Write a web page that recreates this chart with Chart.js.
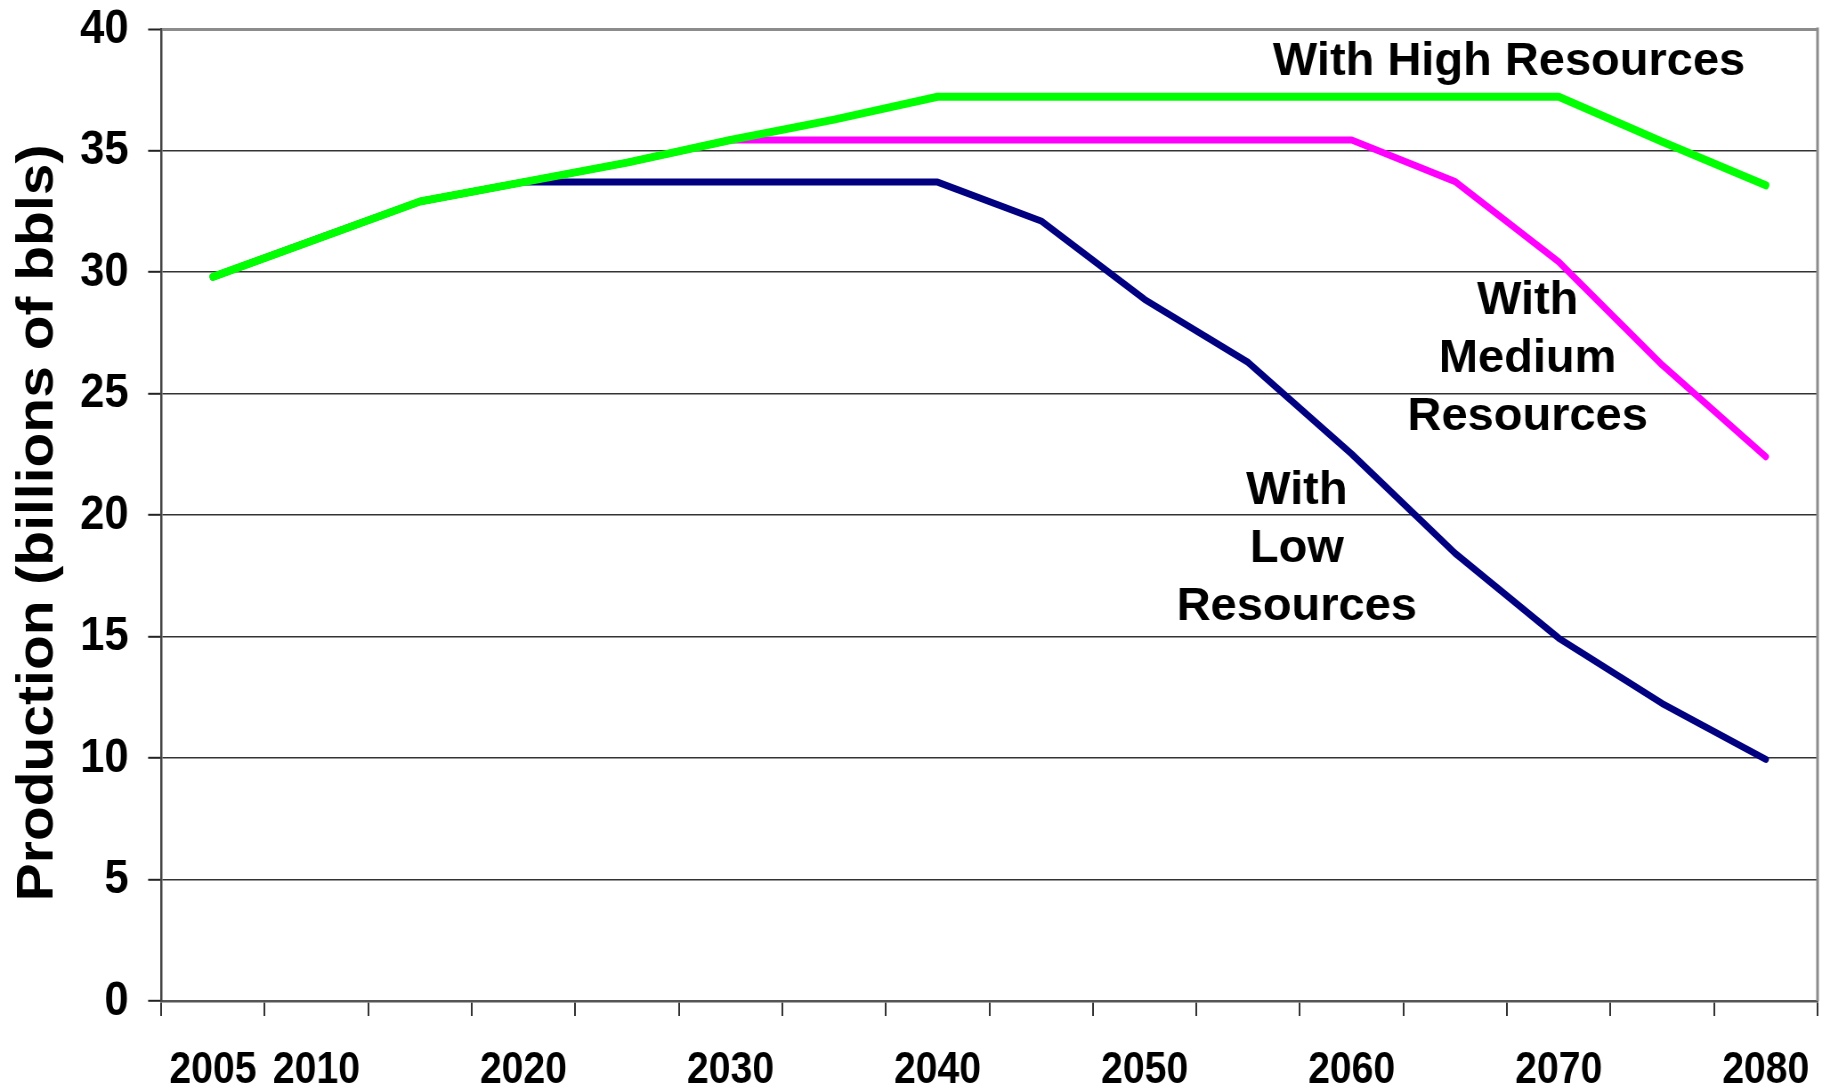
<!DOCTYPE html>
<html>
<head>
<meta charset="utf-8">
<script src="https://cdn.jsdelivr.net/npm/chart.js@4.4.1/dist/chart.umd.min.js"></script>
<style>
  html, body { margin: 0; padding: 0; background: #fff; }
  canvas { display: block; }
</style>
</head>
<body>
<canvas id="prodChart"></canvas>
<script>
// years on the category axis, and the labels actually printed under them
const years = [2005, 2010, 2015, 2020, 2025, 2030, 2035, 2040, 2045, 2050, 2055, 2060, 2065, 2070, 2075, 2080];
const yearLabels = ['2005', '2010', '', '2020', '', '2030', '', '2040', '', '2050', '', '2060', '', '2070', '', '2080'];
const yTicks = [0, 5, 10, 15, 20, 25, 30, 35, 40];

// production, billions of bbls
const highResources   = [29.8, 31.35, 32.9, 33.7, 34.5, 35.43, 36.27, 37.21, 37.21, 37.21, 37.21, 37.21, 37.21, 37.21, 35.36, 33.57];
const mediumResources = [29.8, 31.35, 32.9, 33.7, 34.5, 35.43, 35.43, 35.43, 35.43, 35.43, 35.43, 35.43, 33.72, 30.42, 26.17, 22.40];
const lowResources    = [29.8, 31.35, 32.9, 33.7, 33.7, 33.7, 33.7, 33.7, 32.1, 28.87, 26.28, 22.51, 18.42, 14.93, 12.24, 9.94];

// text notes next to the lines
const noteLines = [['With High Resources'], ['With', 'Medium', 'Resources'], ['With', 'Low', 'Resources']];
const noteAt = [[12.52, 38.62], [12.70, 26.42], [10.47, 18.60]]; // [category index, value] of the text centre

// the original picture is squeezed sideways a little, the ticks show it
const SQUISH = 0.89;
const OUT_W = 1830, OUT_H = 1091;
const canvas = document.getElementById('prodChart');
canvas.width = Math.round(OUT_W / SQUISH);
canvas.height = OUT_H;
canvas.style.width = OUT_W + 'px';
canvas.style.height = OUT_H + 'px';

Chart.defaults.font.family = '"Liberation Sans", Arial, sans-serif';
Chart.defaults.font.weight = 'bold';
Chart.defaults.color = '#000';

const frame = {
    id: 'frame',
    beforeDatasetsDraw(chart) {
        const { ctx, chartArea } = chart;
        ctx.save();
        ctx.strokeStyle = '#8c8c8c';
        ctx.lineWidth = 3;
        ctx.beginPath();
        ctx.moveTo(chartArea.right, chartArea.top - 1.5);
        ctx.lineTo(chartArea.right, chartArea.bottom);
        ctx.stroke();
        ctx.restore();
    }
};

const notes = {
    id: 'notes',
    afterDatasetsDraw(chart) {
        const { ctx, scales } = chart;
        const lineGap = 58;
        ctx.save();
        ctx.fillStyle = '#000';
        ctx.font = 'bold 47px "Liberation Sans", Arial, sans-serif';
        ctx.textAlign = 'center';
        ctx.textBaseline = 'middle';
        noteLines.forEach((lines, i) => {
            const cx = scales.x.getPixelForValue(noteAt[i][0]);
            const cy = scales.y.getPixelForValue(noteAt[i][1]);
            lines.forEach((txt, j) => {
                const y = cy + (j - (lines.length - 1) / 2) * lineGap;
                ctx.save();
                ctx.translate(cx, y);
                ctx.scale(1 / SQUISH, 1); // notes were not squeezed in the original
                ctx.fillText(txt, 0, 0);
                ctx.restore();
            });
        });
        ctx.restore();
    }
};

const lineStyle = {
    pointRadius: 0,
    pointHoverRadius: 0,
    tension: 0,
    fill: false,
    borderCapStyle: 'round',
    borderJoinStyle: 'round'
};

new Chart(canvas, {
    type: 'line',
    data: {
        labels: years,
        datasets: [
            // first dataset is painted last, so green sits on top
            { label: 'With High Resources', data: highResources, borderColor: '#00ff00', borderWidth: 8, ...lineStyle },
            { label: 'With Medium Resources', data: mediumResources, borderColor: '#ff00ff', borderWidth: 7, ...lineStyle },
            { label: 'With Low Resources', data: lowResources, borderColor: '#000080', borderWidth: 7, ...lineStyle },
        ],
    },
    options: {
        responsive: false,
        devicePixelRatio: 1,
        animation: false,
        layout: { padding: { left: 0, top: 29, right: 14, bottom: 0 } },
        scales: {
            x: {
                offset: true,
                grid: {
                    offset: true,
                    drawOnChartArea: false,
                    drawTicks: true,
                    tickLength: 15,
                    color: '#333',
                    lineWidth: 2,
                },
                border: { display: true, color: '#555', width: 2.5 },
                ticks: {
                    autoSkip: false,
                    maxRotation: 0,
                    padding: 28,
                    font: { size: 44, weight: 'bold' },
                    callback: (value, index) => yearLabels[index],
                },
                afterFit: (scale) => {
                    scale.height = 90;
                    scale.paddingLeft = 0;
                    scale.paddingRight = 0;
                },
            },
            y: {
                min: 0,
                max: 40,
                afterBuildTicks: (scale) => {
                    scale.ticks = yTicks.map(v => ({ value: v }));
                },
                grid: {
                    color: (ctx) => ctx.tick && ctx.tick.value === 40 ? '#8c8c8c' : '#333',
                    lineWidth: (ctx) => ctx.tick && ctx.tick.value === 40 ? 3 : 1.6,
                    tickColor: '#222',
                    tickWidth: 2,
                    tickLength: 14.6,
                },
                border: { display: true, color: '#444', width: 2.5 },
                ticks: {
                    padding: 22,
                    font: { size: 49, weight: 'bold', lineHeight: 1 },
                },
                title: {
                    display: true,
                    // trailing space nudges the centred title a few px down, as in the original
                    text: 'Production (billions of bbls) ',
                    font: { size: 57, weight: 'bold' },
                    padding: { top: 9, bottom: 0 },
                },
                afterFit: (scale) => {
                    scale.width = 181;
                    scale.paddingTop = 0;
                    scale.paddingBottom = 0;
                },
            },
        },
        plugins: {
            legend: { display: false },
            tooltip: { enabled: false },
        },
    },
    plugins: [frame, notes],
});
</script>
</body>
</html>
